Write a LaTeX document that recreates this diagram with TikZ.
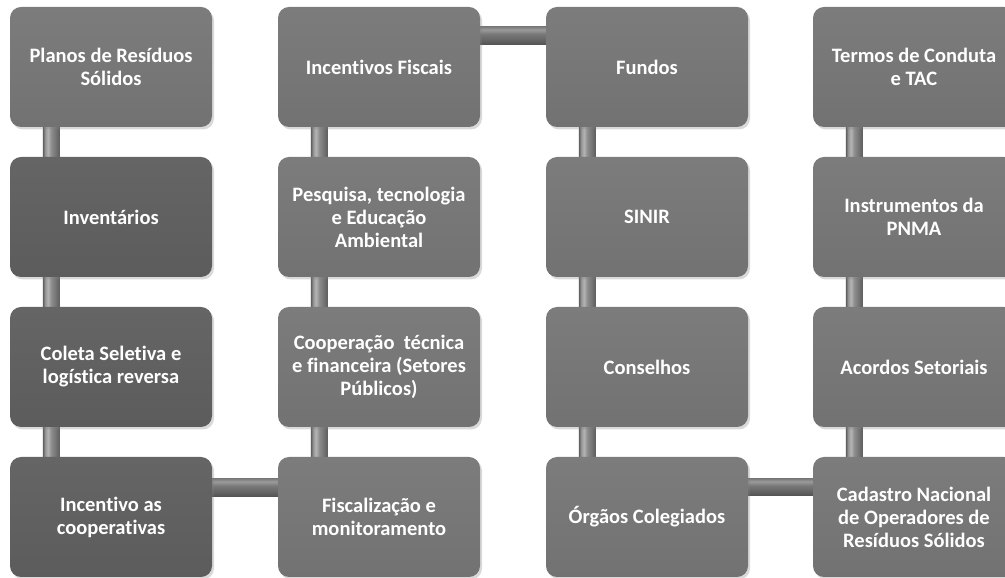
\documentclass[tikz,border=0pt]{standalone}
\usepackage{fontspec}
\setmainfont{Carlito}[Ligatures=NoCommon]
\usetikzlibrary{shadows,calc}
\definecolor{lightT}{RGB}{124,124,124}
\definecolor{lightB}{RGB}{114,114,114}
\definecolor{darkT}{RGB}{101,101,101}
\definecolor{darkB}{RGB}{92,92,92}
\definecolor{pA}{RGB}{92,92,92}
\definecolor{pB}{RGB}{150,150,150}
\definecolor{pC}{RGB}{180,180,180}
\definecolor{pD}{RGB}{140,140,140}
\definecolor{pE}{RGB}{112,112,112}
\definecolor{hA}{RGB}{82,82,82}
\definecolor{hB}{RGB}{100,100,100}
\definecolor{hC}{RGB}{120,120,120}
\definecolor{hD}{RGB}{155,155,155}
\definecolor{hE}{RGB}{125,125,125}
\pgfdeclarehorizontalshading{vpipeshade}{100bp}{color(0bp)=(pA); color(25bp)=(pA); color(32bp)=(pB); color(40bp)=(pC); color(50bp)=(pD); color(65bp)=(pE); color(75bp)=(pA); color(100bp)=(pA)}
\pgfdeclareverticalshading{hpipeshade}{100bp}{color(0bp)=(hA); color(25bp)=(hA); color(38bp)=(hB); color(55bp)=(hC); color(67bp)=(hD); color(75bp)=(hE); color(100bp)=(hE)}
\pgfdeclarelayer{background}
\pgfsetlayers{background,main}
\tikzset{
  box/.style={rounded corners=11pt, minimum width=202pt, minimum height=120pt,
    inner sep=0pt, align=center, text=white,
    font=\bfseries\fontsize{20.5}{23}\selectfont,
    drop shadow={shadow xshift=2pt, shadow yshift=-2.5pt, opacity=0.3}},
  lightbox/.style={box, top color=lightT, bottom color=lightB},
  darkbox/.style={box, top color=darkT, bottom color=darkB},
  vpipe/.style={shading=vpipeshade},
  hpipe/.style={shading=hpipeshade}
}
\begin{document}
\begin{tikzpicture}[x=1pt,y=1pt]
\useasboundingbox (0,0) rectangle (1005,578);
\clip (0,0) rectangle (1005,578);
% column 1
\node[lightbox] (a1) at (111,511) {Planos de Resíduos\\Sólidos};
\node[darkbox]  (a2) at (111,361) {Inventários};
\node[darkbox]  (a3) at (111,211) {Coleta Seletiva e\\logística reversa};
\node[darkbox]  (a4) at (111,61)  {Incentivo as\\cooperativas};
% column 2
\node[lightbox] (b1) at (379,511) {Incentivos Fiscais};
\node[lightbox] (b2) at (379,361) {Pesquisa, tecnologia\\e Educação\\Ambiental};
\node[lightbox] (b3) at (379,211) {Cooperação\ \ técnica\\e financeira (Setores\\Públicos)};
\node[lightbox] (b4) at (379,61)  {Fiscalização e\\monitoramento};
% column 3
\node[lightbox] (c1) at (647,511) {Fundos};
\node[lightbox] (c2) at (647,361) {SINIR};
\node[lightbox] (c3) at (647,211) {Conselhos};
\node[lightbox] (c4) at (647,61)  {Órgãos Colegiados};
% column 4
\node[lightbox] (d1) at (914,511) {Termos de Conduta\\e TAC};
\node[lightbox] (d2) at (914,361) {Instrumentos da\\PNMA};
\node[lightbox] (d3) at (914,211) {Acordos Setoriais};
\node[lightbox] (d4) at (914,61)  {Cadastro Nacional\\de Operadores de\\Resíduos Sólidos};
\begin{pgfonlayer}{background}
\foreach \c in {a,b,c,d}{
  \shade[vpipe] ($(\c1.south west)+(33,5)$) rectangle ($(\c2.north west)+(50,-5)$);
  \shade[vpipe] ($(\c2.south west)+(33,5)$) rectangle ($(\c3.north west)+(50,-5)$);
  \shade[vpipe] ($(\c3.south west)+(33,5)$) rectangle ($(\c4.north west)+(50,-5)$);
}
\shade[hpipe] ($(b1.north east)+(-5,-20)$) rectangle ($(c1.north west)+(5,-38)$);
\shade[hpipe] ($(a4.north east)+(-5,-22)$) rectangle ($(b4.north west)+(5,-40)$);
\shade[hpipe] ($(c4.north east)+(-5,-22)$) rectangle ($(d4.north west)+(5,-39)$);
\end{pgfonlayer}
\end{tikzpicture}
\end{document}
